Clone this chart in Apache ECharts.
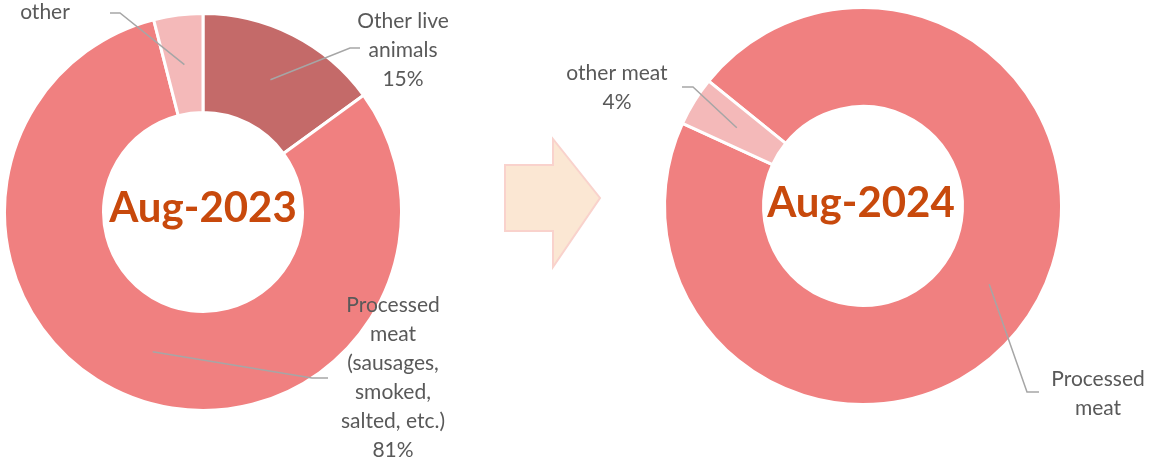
<!DOCTYPE html>
<html>
<head>
<meta charset="utf-8">
<script src="https://cdn.jsdelivr.net/npm/echarts@6/dist/echarts.min.js"></script>
<style>
  html, body { margin: 0; padding: 0; background: #ffffff; }
  #chart { width: 1150px; height: 466px; }
</style>
</head>
<body>
<div id="chart"></div>
<script>
// Meat import structure, share of total (%)
const periods = ['Aug-2023', 'Aug-2024'];

const categories2023 = ['Other live animals', 'Processed meat (sausages, smoked, salted, etc.)', 'other'];
const shares2023 = [15, 81, 4];
const labelText2023 = ['Other live\nanimals', 'Processed\nmeat\n(sausages,\nsmoked,\nsalted, etc.)', 'other'];
const showShare2023 = [true, true, false];

const categories2024 = ['Processed meat', 'other meat'];
const shares2024 = [96, 4];
const labelText2024 = ['Processed\nmeat', 'other meat'];
const showShare2024 = [false, true];

// Layout and styling
const TEXT_FONT = 'Lato';
const INNER_R = 99.5;
const OUTER_R = 198.5;
const MID_R = 148.5;
const centers = [[203, 212], [863, 206]];
const startAngles = [90, 141];
const colors2023 = ['#C46A69', '#F08080', '#F4B9B9'];
const colors2024 = ['#F08080', '#F4B9B9'];

// Label anchor and leader-line knee/end for each slice
const labelSpots = [
  [
    { x: 403, y: 50, knee: [350, 48], end: [360, 48] },
    { x: 393, y: 378, knee: [312, 378], end: [328, 378] },
    { x: 45, y: 12, knee: [120, 13], end: [110, 13] }
  ],
  [
    { x: 1098, y: 394, knee: [1027, 392], end: [1039, 392] },
    { x: 617, y: 88, knee: [693, 87], end: [682, 87] }
  ]
];

const seriesShares = [shares2023, shares2024];

function buildData(names, values, texts, showShare, colors) {
  return names.map((n, i) => ({
    name: n,
    value: values[i],
    labelText: texts[i] + (showShare[i] ? '\n' + values[i] + '%' : ''),
    itemStyle: { color: colors[i] }
  }));
}

// Point in the middle of the ring at the slice's mid angle
function ringMidPoint(group, dataIndex) {
  const vals = seriesShares[group];
  const total = vals.reduce((a, b) => a + b, 0);
  let cum = 0;
  for (let i = 0; i < dataIndex; i++) cum += vals[i];
  const mid = (cum + vals[dataIndex] / 2) / total;
  const ang = (startAngles[group] - 360 * mid) * Math.PI / 180;
  const c = centers[group];
  return [c[0] + MID_R * Math.cos(ang), c[1] - MID_R * Math.sin(ang)];
}

// Ring of slices
function ringSeries(idx, data) {
  return {
    type: 'pie',
    z: 2,
    center: centers[idx],
    radius: [INNER_R, OUTER_R],
    startAngle: startAngles[idx],
    clockwise: true,
    silent: true,
    itemStyle: { borderColor: '#ffffff', borderWidth: 3 },
    label: { show: false },
    labelLine: { show: false },
    data: data
  };
}

// Same slices, invisible, carrying the labels so their leader lines sit above the ring
function labelSeries(idx, data) {
  return {
    type: 'pie',
    z: 5,
    center: centers[idx],
    radius: [INNER_R, OUTER_R],
    startAngle: startAngles[idx],
    clockwise: true,
    silent: true,
    avoidLabelOverlap: false,
    itemStyle: { color: 'rgba(0,0,0,0)', borderWidth: 0 },
    label: {
      show: true,
      position: 'outside',
      formatter: p => p.data.labelText,
      color: '#595959',
      fontFamily: TEXT_FONT,
      fontSize: 21,
      lineHeight: 29,
      align: 'center'
    },
    labelLine: {
      show: true,
      length: 10,
      length2: 10,
      lineStyle: { color: '#A6A6A6', width: 1.5 }
    },
    labelLayout: function (p) {
      const s = labelSpots[idx][p.dataIndex];
      return {
        x: s.x,
        y: s.y,
        align: 'center',
        verticalAlign: 'middle',
        hideOverlap: false,
        labelLinePoints: [ringMidPoint(idx, p.dataIndex), s.knee, s.end]
      };
    },
    data: data.map(d => ({ name: d.name, value: d.value, labelText: d.labelText }))
  };
}

const data2023 = buildData(categories2023, shares2023, labelText2023, showShare2023, colors2023);
const data2024 = buildData(categories2024, shares2024, labelText2024, showShare2024, colors2024);

const chart = echarts.init(document.getElementById('chart'), null, { renderer: 'canvas' });

chart.setOption({
  animation: false,
  backgroundColor: '#ffffff',
  textStyle: { fontFamily: TEXT_FONT },
  series: [
    ringSeries(0, data2023),
    ringSeries(1, data2024),
    labelSeries(0, data2023),
    labelSeries(1, data2024)
  ],
  graphic: [
    {
      type: 'polygon',
      z: 1,
      shape: { points: [[505, 165], [553, 165], [553, 139], [600, 198], [553, 267], [553, 231], [505, 231]] },
      style: { fill: '#FBE7D3', stroke: '#F9D2CC', lineWidth: 2 }
    },
    {
      type: 'text',
      z: 10,
      x: centers[0][0],
      y: 208,
      style: {
        text: periods[0],
        font: 'bold 42px ' + TEXT_FONT,
        fill: '#C8490C',
        align: 'center',
        verticalAlign: 'middle'
      }
    },
    {
      type: 'text',
      z: 10,
      x: 861,
      y: 203,
      style: {
        text: periods[1],
        font: 'bold 42px ' + TEXT_FONT,
        fill: '#C8490C',
        align: 'center',
        verticalAlign: 'middle'
      }
    }
  ]
});
</script>
</body>
</html>
